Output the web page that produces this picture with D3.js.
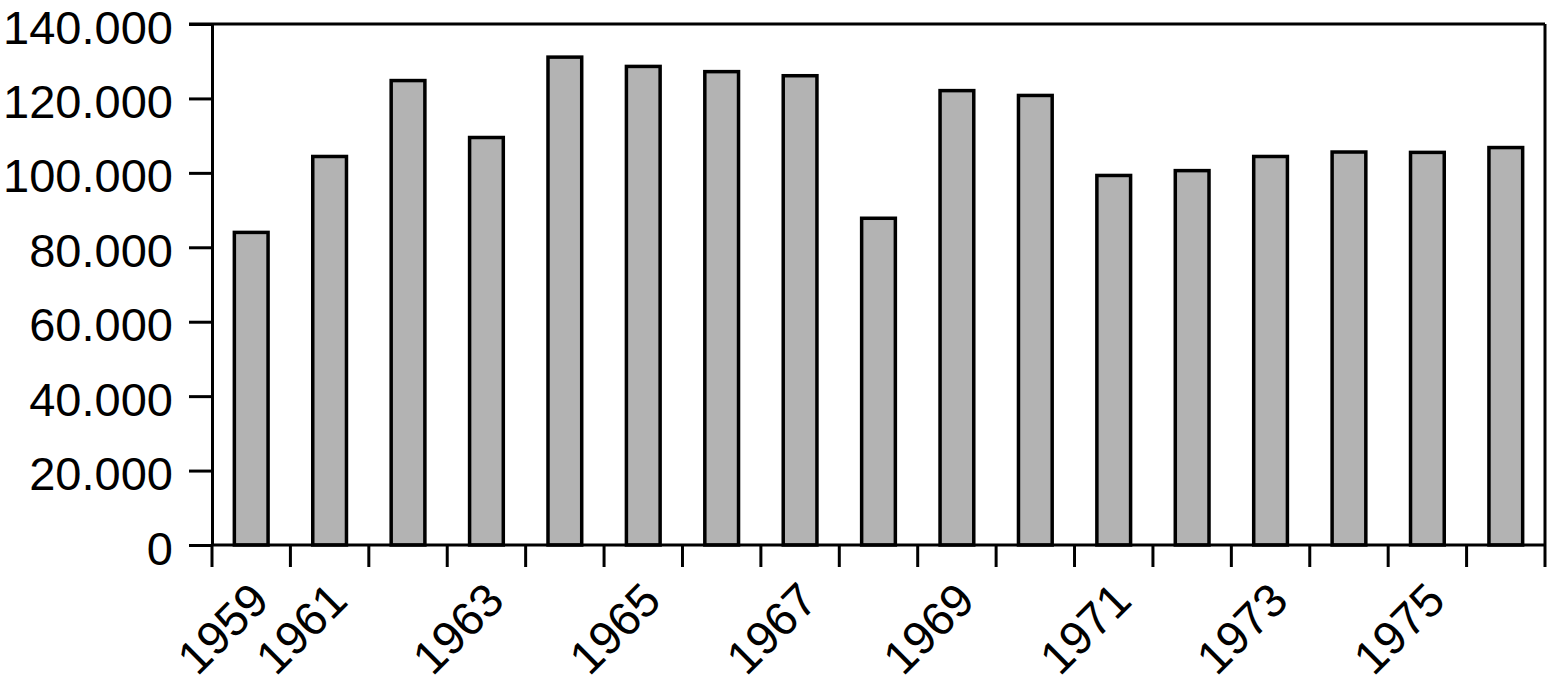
<!DOCTYPE html>
<html>
<head>
<meta charset="utf-8">
<script src="https://cdn.jsdelivr.net/npm/d3@7"></script>
<style>
  html, body { margin: 0; padding: 0; background: #fff; }
  svg { display: block; }
</style>
</head>
<body>
<svg id="chart" width="1549" height="687"></svg>
<script>
// ---- data ----
const years = ["1959","1961","1962","1963","1964","1965","1966","1967","1968",
               "1969","1970","1971","1972","1973","1974","1975","1976"];
const values = [84000, 104400, 124800, 109500, 131100, 128600, 127200, 126100, 87800,
                122100, 120800, 99300, 100600, 104400, 105600, 105500, 106800];
const shownLabels = ["1959","1961","1963","1965","1967","1969","1971","1973","1975"];
const yTicks = [0, 20000, 40000, 60000, 80000, 100000, 120000, 140000];

// ---- layout ----
const W = 1549, H = 687;
const m = { left: 212, top: 24, right: 4, bottom: 142 };
const svg = d3.select("#chart");
const font = "'Liberation Sans', Arial, Helvetica, sans-serif";

const x = d3.scaleBand().domain(years).range([m.left, W - m.right]).paddingInner(0).paddingOuter(0);
const y = d3.scaleLinear().domain([0, 140000]).range([H - m.bottom, m.top]);
const fmt = d3.formatLocale({ decimal: ",", thousands: ".", grouping: [3], currency: ["", ""] }).format(",");

// bars
const barW = x.bandwidth() * 0.43;
svg.append("g").selectAll("rect").data(years).join("rect")
  .attr("x", (d) => x(d) + (x.bandwidth() - barW) / 2)
  .attr("y", (d, i) => y(values[i]))
  .attr("width", barW)
  .attr("height", (d, i) => y(0) - y(values[i]))
  .attr("fill", "#b3b3b3")
  .attr("stroke", "#000")
  .attr("stroke-width", 3.5);

// frame top and right
svg.append("line").attr("x1", m.left - 23).attr("x2", W - m.right).attr("y1", y(140000)).attr("y2", y(140000))
  .attr("stroke", "#000").attr("stroke-width", 3);
svg.append("line").attr("x1", W - m.right).attr("x2", W - m.right).attr("y1", y(140000)).attr("y2", y(0))
  .attr("stroke", "#000").attr("stroke-width", 3);

// y axis
const yAxis = svg.append("g").attr("transform", `translate(${m.left},0)`)
  .call(d3.axisLeft(y).tickValues(yTicks).tickFormat(fmt).tickSizeInner(23).tickSizeOuter(0).tickPadding(16));
yAxis.select(".domain").attr("stroke", "#000").attr("stroke-width", 3);
yAxis.selectAll(".tick line").attr("stroke", "#000").attr("stroke-width", 3);
yAxis.selectAll(".tick text").attr("font-family", font).attr("font-size", 47).attr("fill", "#000")
  .attr("dy", "19px");

// x axis: baseline + ticks at band boundaries
const xAxis = svg.append("g").attr("transform", `translate(0,${y(0)})`);
xAxis.append("line").attr("x1", m.left).attr("x2", W - m.right).attr("y1", 0).attr("y2", 0)
  .attr("stroke", "#000").attr("stroke-width", 3);
const bounds = years.map((d) => x(d)).concat([x(years[years.length - 1]) + x.bandwidth()]);
xAxis.selectAll("line.tk").data(bounds).join("line").attr("class", "tk")
  .attr("x1", (d) => d).attr("x2", (d) => d).attr("y1", 0).attr("y2", 22)
  .attr("stroke", "#000").attr("stroke-width", 3);
xAxis.selectAll("text").data(shownLabels).join("text")
  .attr("transform", (d) => `translate(${x(d) + x.bandwidth() / 2 + 20},58) rotate(-45)`)
  .attr("text-anchor", "end")
  .attr("font-family", font).attr("font-size", 47).attr("fill", "#000")
  .text((d) => d);
</script>
</body>
</html>
